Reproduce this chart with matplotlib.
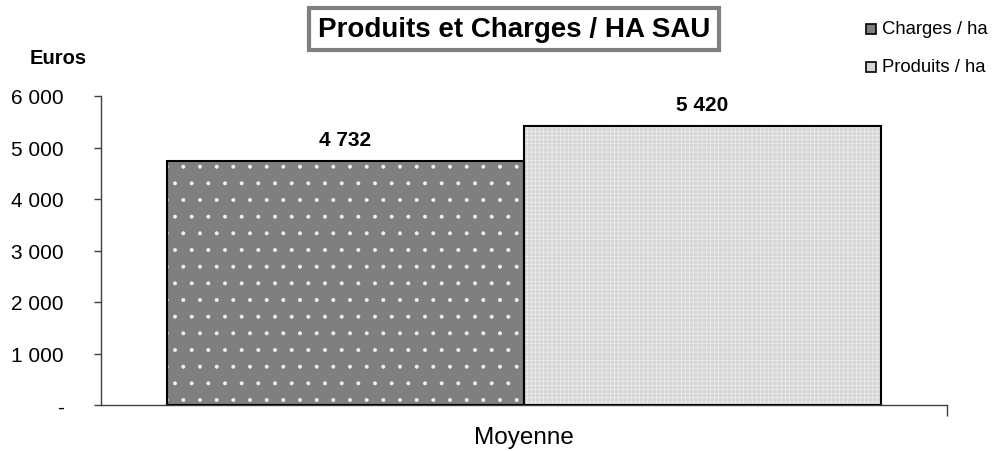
import matplotlib
matplotlib.use("Agg")
import matplotlib.pyplot as plt
from matplotlib.patches import Rectangle
from matplotlib.ticker import FixedLocator, FuncFormatter

plt.rcParams['font.family'] = ['Liberation Sans', 'DejaVu Sans']
plt.rcParams['hatch.linewidth'] = 0.4

category = "Moyenne"
series = ["Charges / ha", "Produits / ha"]
values = [4732, 5420]
yticks = [0, 1000, 2000, 3000, 4000, 5000, 6000]

W, H = 993, 452
fig = plt.figure(figsize=(W / 100, H / 100), dpi=100)
ax = fig.add_axes([101 / W, (H - 406) / H, (947 - 101) / W, (406 - 97) / H])

face = ["#7f7f7f", "#d6d6d6"]
hatch = [".", "++++"]
hcol = ["#f0f0f0", "#f2f2f2"]
xpos = [-0.5, 0.5]
width = 1.0
for i, (v, x) in enumerate(zip(values, xpos)):
    ax.bar(x, v, width=width, color=face[i], edgecolor="none", zorder=2)
    ax.bar(x, v, width=width, color="none", edgecolor=hcol[i], hatch=hatch[i], linewidth=0, zorder=3)
    ax.bar(x, v, width=width, color="none", edgecolor="black", linewidth=1.5, zorder=4)
    ax.text(x, v + 230, f"{v:,}".replace(",", " "), ha="center", va="bottom",
            fontsize=15, fontweight="bold", zorder=5)

ax.set_xlim(-1.185, 1.185)
ax.set_ylim(0, 6000)
ax.yaxis.set_major_locator(FixedLocator(yticks))
ax.yaxis.set_major_formatter(FuncFormatter(lambda v, p: "-" if v == 0 else f"{int(v):,}".replace(",", " ")))
ax.tick_params(axis="y", direction="out", length=5, width=1, color="#404040", labelsize=15, pad=22)
ax.set_xticks([1.185])
ax.set_xticklabels([""])
ax.tick_params(axis="x", direction="out", length=8, width=1, color="#404040")
for s in ["top", "right"]:
    ax.spines[s].set_visible(False)
for s in ["left", "bottom"]:
    ax.spines[s].set_color("#404040")
    ax.spines[s].set_linewidth(1)

fig.text(524 / W, 1 - 438 / H, category, ha="center", va="center", fontsize=17.5)
fig.text(58 / W, 1 - 58 / H, "Euros", ha="center", va="center", fontsize=14.5, fontweight="bold")

fig.text(514 / W, 1 - 30 / H, "Produits et Charges / HA SAU", ha="center", va="center",
         fontsize=20, fontweight="bold",
         bbox=dict(boxstyle="square,pad=0.3", facecolor="white", edgecolor="#808080", linewidth=3))

# legend
for i, (name, yy) in enumerate(zip(series, [30, 68])):
    fig.patches.append(Rectangle((866 / W, 1 - (yy + 5) / H), 10 / W, 10 / H,
                                 transform=fig.transFigure, facecolor=face[i],
                                 edgecolor="black", linewidth=1.2))
    fig.text(882 / W, 1 - yy / H, name, ha="left", va="center", fontsize=13.3)

fig.savefig("out.png", dpi=100)
